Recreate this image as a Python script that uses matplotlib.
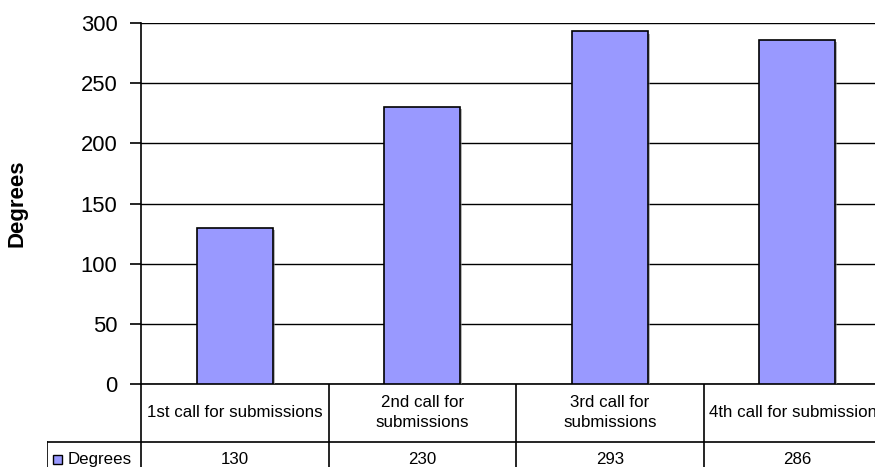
import matplotlib
matplotlib.use("Agg")
import matplotlib.pyplot as plt
from matplotlib import patheffects

# data
categories = ["1st call for submissions", "2nd call for\nsubmissions",
              "3rd call for\nsubmissions", "4th call for submissions"]
degrees = [130, 230, 293, 286]
series_name = "Degrees"
yticks = [0, 50, 100, 150, 200, 250, 300]

bar_color = "#9999FF"
plt.rcParams["font.family"] = ["Liberation Sans", "DejaVu Sans"]

W, H = 875, 467
fig = plt.figure(figsize=(W / 100, H / 100), dpi=100)

# plot area in pixels: x from 141 to 891 (runs past the right edge), y from 23 to 384
col_w = 187.5
x0, y_top, y_bot = 141, 23, 384
ax = fig.add_axes([x0 / W, 1 - y_bot / H, 4 * col_w / W, (y_bot - y_top) / H])

xs = list(range(len(categories)))
shadow = [patheffects.SimplePatchShadow(offset=(1.5, -1.5), shadow_rgbFace="#888888", alpha=0.6),
          patheffects.Normal()]
bars = ax.bar(xs, degrees, width=0.406, color=bar_color, edgecolor="black", linewidth=1.2, zorder=3)
for b in bars:
    b.set_path_effects(shadow)

ax.set_xlim(-0.5, len(categories) - 0.5)
ax.set_ylim(0, 300)
ax.set_yticks(yticks)
ax.yaxis.grid(True, color="black", linewidth=1)
ax.set_axisbelow(True)
ax.set_xticks([])
for s in ["top", "right"]:
    ax.spines[s].set_visible(False)
ax.spines["left"].set_linewidth(1.2)
ax.spines["bottom"].set_linewidth(1.2)
ax.tick_params(axis="y", length=8, width=1.2, pad=9, labelsize=15.8, direction="out")
ax.set_ylabel(series_name, fontsize=16, fontweight="bold", labelpad=38)

# data table under the plot, sharing the category scale
tx0 = x0 - col_w / 2
tab = fig.add_axes([tx0 / W, 0, 4.5 * col_w / W, (H - y_bot) / H])
tab.set_xlim(-1, len(categories) - 0.5)
row_h = 57.5
tab.set_ylim(1 + (H - y_bot - row_h) / row_h, 0)
tab.axis("off")

lw = 1.2
for i in range(len(categories) + 1):
    tab.plot([i - 0.5, i - 0.5], [0, 2], color="black", lw=lw, clip_on=True)
tab.plot([-1, -1], [1, 2], color="black", lw=lw)
tab.plot([-1, len(categories) - 0.5], [1, 1], color="black", lw=lw)

for i, (cat, val) in enumerate(zip(categories, degrees)):
    tab.text(i, 0.5, cat, ha="center", va="center", fontsize=12.2, linespacing=1.4)
    tab.text(i, 1.31, str(val), ha="center", va="center", fontsize=12.2)

# legend key inside the first cell
tab.add_patch(plt.Rectangle((-0.968, 1.23), 0.048, 0.16, facecolor=bar_color,
                            edgecolor="black", lw=1, clip_on=False))
tab.text(-0.893, 1.31, series_name, ha="left", va="center", fontsize=12.2)

plt.savefig("out.png", dpi=100)
